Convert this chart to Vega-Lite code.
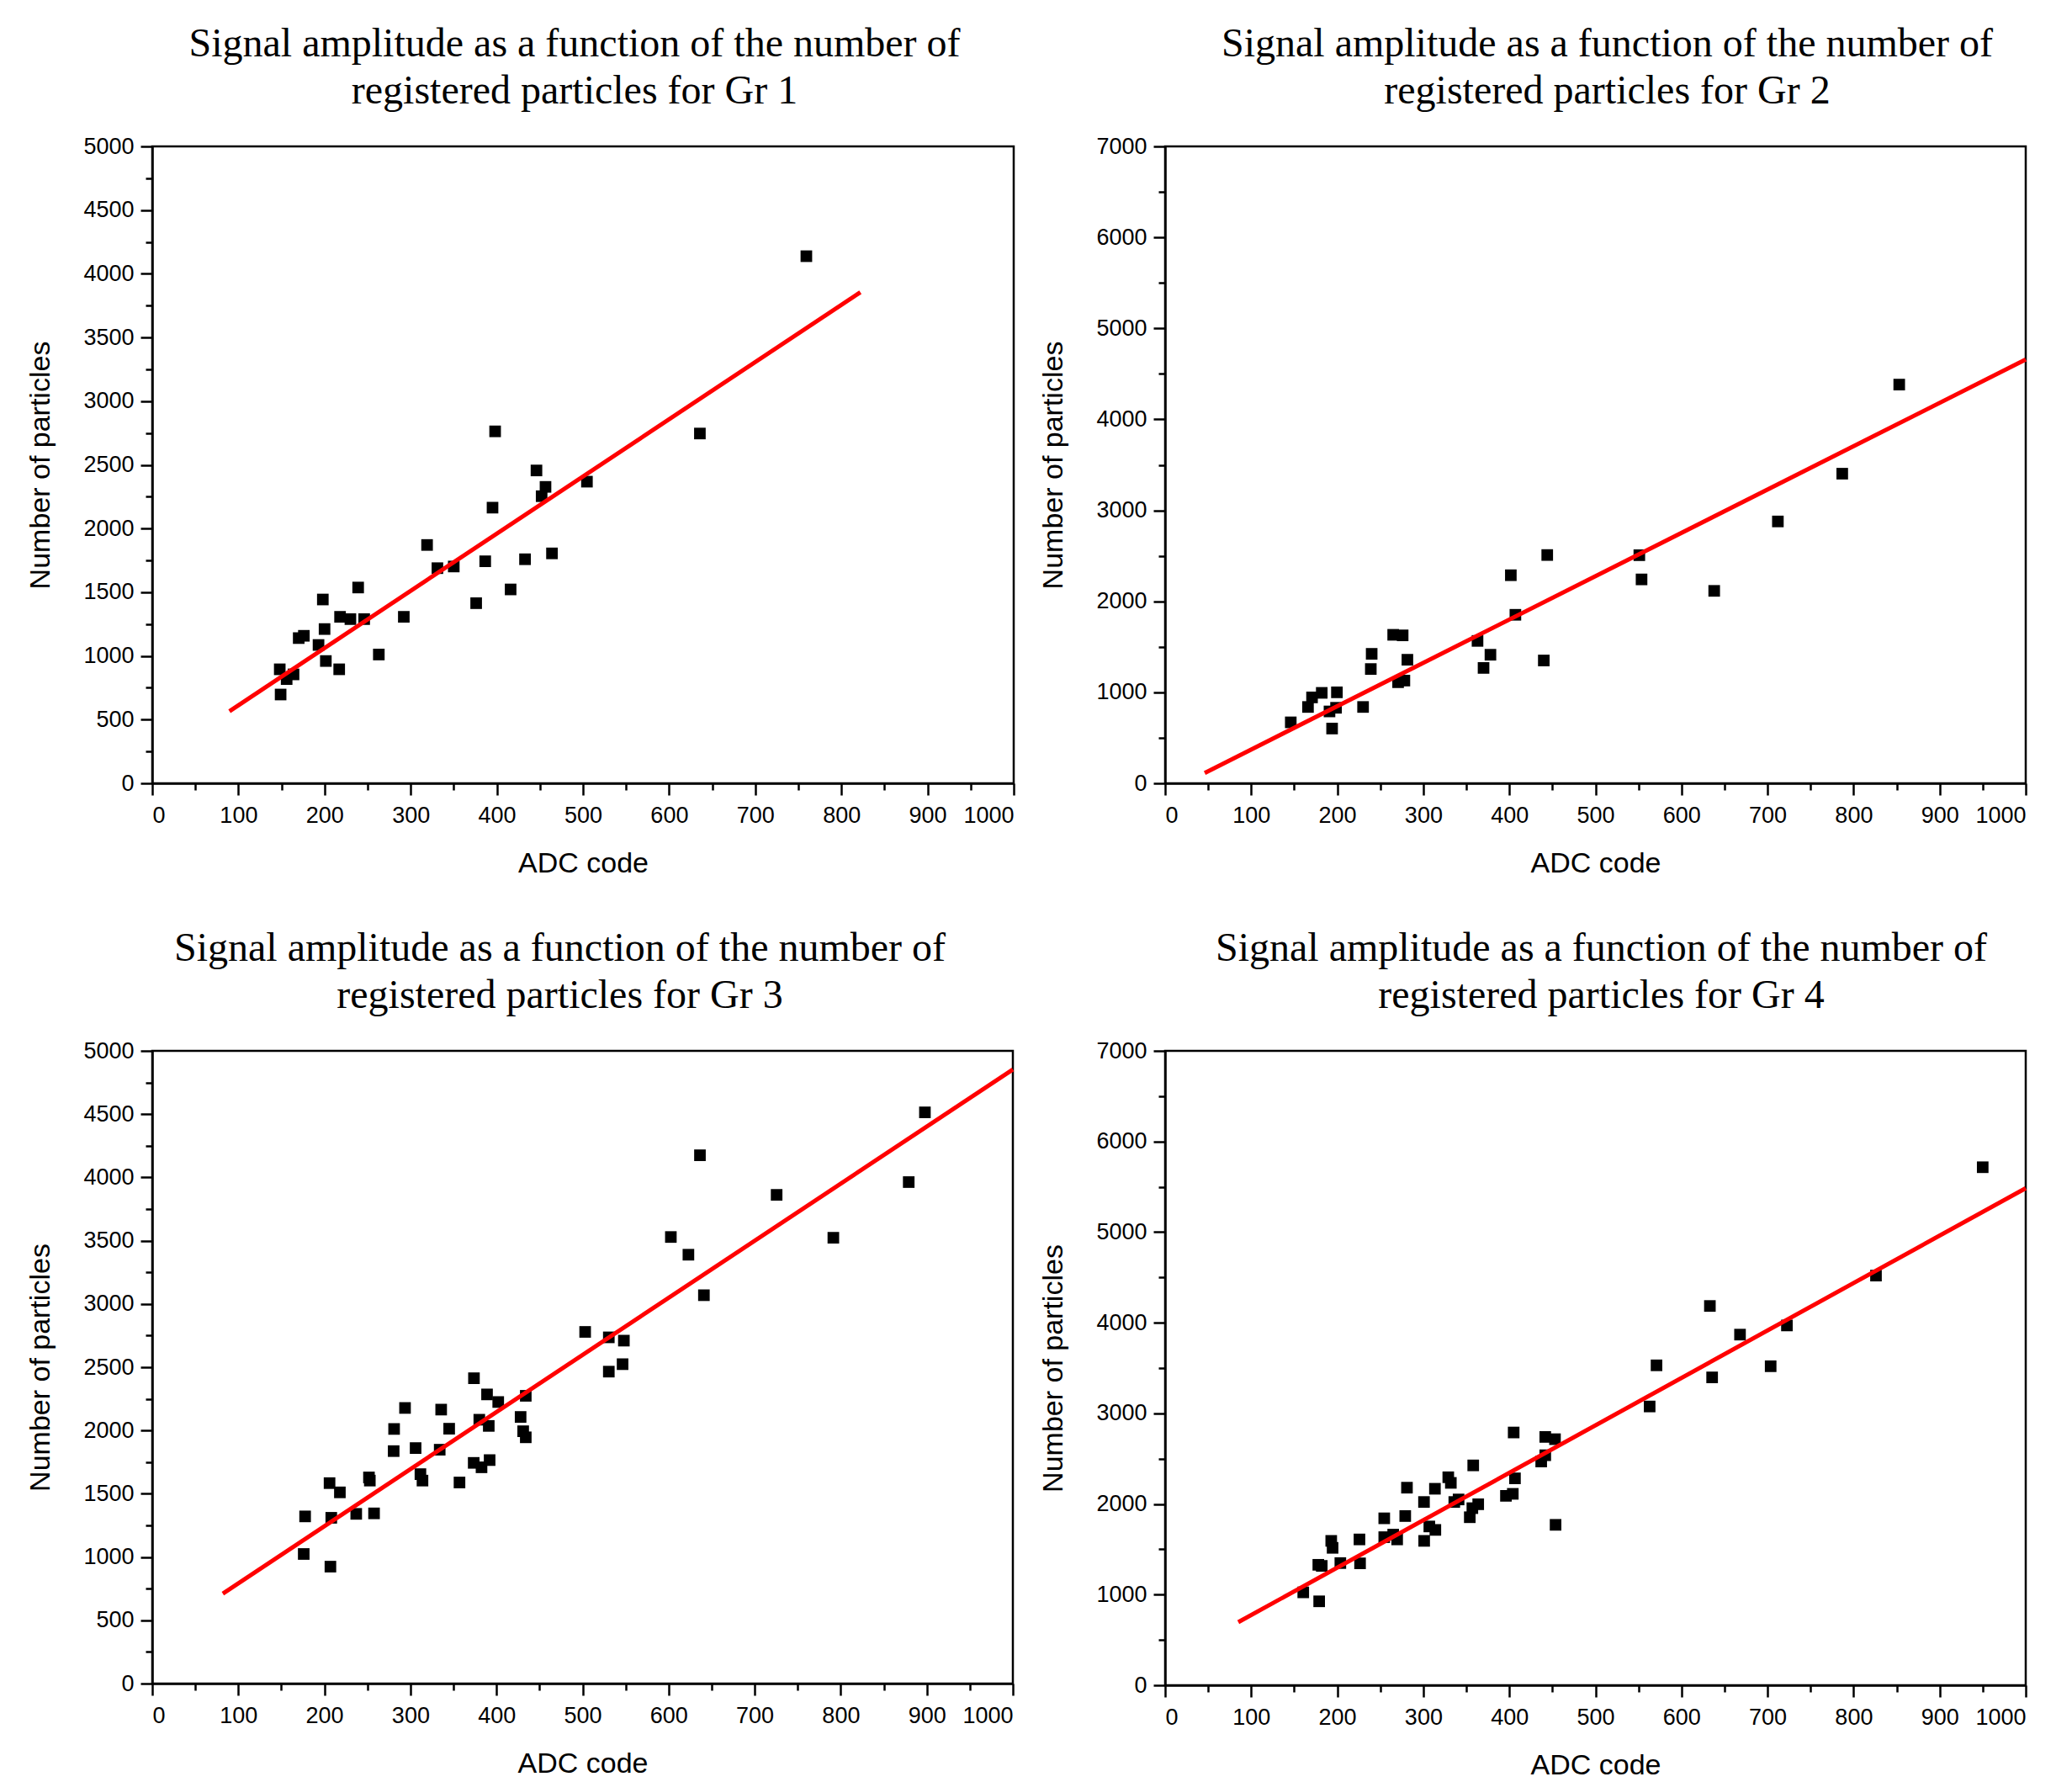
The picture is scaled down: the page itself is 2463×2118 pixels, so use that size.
{
  "$schema": "https://vega.github.io/schema/vega-lite/v6.json",
  "background": "white",
  "padding": {"left": 30, "top": 27, "right": 5, "bottom": 5},
  "datasets": {
    "p1": [{"adc":148,"n":895},{"adc":149,"n":697},{"adc":156,"n":818},{"adc":164,"n":855},{"adc":170,"n":1140},{"adc":176,"n":1158},{"adc":193,"n":1086},{"adc":198,"n":1443},{"adc":200,"n":1211},{"adc":201.5,"n":960},{"adc":217,"n":895},{"adc":218,"n":1307},{"adc":230,"n":1289},{"adc":239,"n":1537},{"adc":246,"n":1289},{"adc":263,"n":1011},{"adc":292,"n":1307},{"adc":319,"n":1871},{"adc":331,"n":1689},{"adc":350,"n":1702},{"adc":376,"n":1414},{"adc":386.5,"n":1743},{"adc":395,"n":2164},{"adc":398,"n":2763},{"adc":416,"n":1522},{"adc":432.7,"n":1759},{"adc":446,"n":2456},{"adc":452,"n":2254},{"adc":456.5,"n":2327},{"adc":464,"n":1805},{"adc":504.6,"n":2368},{"adc":635.7,"n":2746},{"adc":759.3,"n":4138}],
    "f1": [{"adc":89.6,"n":566},{"adc":822,"n":3855}],
    "p2": [{"adc":146,"n":670},{"adc":166,"n":839},{"adc":170.7,"n":944},{"adc":182,"n":994},{"adc":191,"n":790},{"adc":194,"n":602},{"adc":198.6,"n":830},{"adc":199.6,"n":1000},{"adc":230,"n":839},{"adc":239,"n":1256},{"adc":240,"n":1423},{"adc":265,"n":1632},{"adc":270.7,"n":1111},{"adc":276,"n":1626},{"adc":278,"n":1129},{"adc":281.5,"n":1358},{"adc":363,"n":1565},{"adc":370,"n":1268},{"adc":378,"n":1413},{"adc":401.7,"n":2287},{"adc":407,"n":1852},{"adc":440,"n":1350},{"adc":444,"n":2509},{"adc":551,"n":2507},{"adc":553.6,"n":2241},{"adc":638,"n":2115},{"adc":712,"n":2878},{"adc":786.8,"n":3403},{"adc":853,"n":4382}],
    "f2": [{"adc":46,"n":114},{"adc":1000,"n":4658}],
    "p3": [{"adc":177.6,"n":1321},{"adc":176,"n":1024},{"adc":207,"n":924},{"adc":206,"n":1584},{"adc":218,"n":1511},{"adc":208,"n":1310},{"adc":237,"n":1341},{"adc":257.7,"n":1345},{"adc":251.8,"n":1629},{"adc":252.8,"n":1604},{"adc":281,"n":2012},{"adc":280.5,"n":1837},{"adc":293.7,"n":2178},{"adc":306,"n":1861},{"adc":311.6,"n":1655},{"adc":314,"n":1604},{"adc":335.7,"n":2165},{"adc":345,"n":2014},{"adc":334,"n":1848},{"adc":357,"n":1589},{"adc":373.8,"n":2413},{"adc":389,"n":2285},{"adc":402,"n":2225},{"adc":380,"n":2085},{"adc":391,"n":2036},{"adc":373.5,"n":1744},{"adc":382.6,"n":1709},{"adc":392,"n":1766},{"adc":428,"n":2107},{"adc":431,"n":1994},{"adc":434,"n":1946},{"adc":434,"n":2274},{"adc":503,"n":2779},{"adc":530.5,"n":2736},{"adc":530.5,"n":2465},{"adc":548,"n":2710},{"adc":546.5,"n":2524},{"adc":602.6,"n":3529},{"adc":623,"n":3389},{"adc":636.4,"n":4175},{"adc":641,"n":3069},{"adc":725.5,"n":3862},{"adc":791.4,"n":3523},{"adc":879,"n":3963},{"adc":897.8,"n":4514}],
    "f3": [{"adc":82,"n":711},{"adc":1000,"n":4853}],
    "p4": [{"adc":160.5,"n":1025},{"adc":179,"n":926},{"adc":178,"n":1329},{"adc":182,"n":1317},{"adc":193,"n":1593},{"adc":194.6,"n":1516},{"adc":203.6,"n":1348},{"adc":225.8,"n":1609},{"adc":226.5,"n":1345},{"adc":254.6,"n":1842},{"adc":254.6,"n":1634},{"adc":265,"n":1662},{"adc":269.6,"n":1609},{"adc":279,"n":1867},{"adc":281,"n":2180},{"adc":300.8,"n":2022},{"adc":301,"n":1593},{"adc":307,"n":1752},{"adc":314,"n":1714},{"adc":313.5,"n":2168},{"adc":329,"n":2295},{"adc":332,"n":2233},{"adc":336,"n":2022},{"adc":341,"n":2050},{"adc":354,"n":1854},{"adc":357,"n":1954},{"adc":363.8,"n":1997},{"adc":358,"n":2426},{"adc":405,"n":2789},{"adc":406.5,"n":2283},{"adc":396,"n":2090},{"adc":404,"n":2112},{"adc":441.7,"n":2740},{"adc":453,"n":2715},{"adc":441.7,"n":2538},{"adc":437,"n":2469},{"adc":453.7,"n":1770},{"adc":563,"n":3076},{"adc":571,"n":3530},{"adc":633,"n":4185},{"adc":635.6,"n":3397},{"adc":668,"n":3869},{"adc":703.6,"n":3520},{"adc":722.5,"n":3970},{"adc":826,"n":4520},{"adc":950,"n":5716}],
    "f4": [{"adc":85,"n":696},{"adc":1000,"n":5485}]
  },
  "columns": 2,
  "bounds": "flush",
  "spacing": {"column": 180, "row": 318},
  "concat": [
    {
      "width": 1024, "height": 757,
      "title": {"text": ["Signal amplitude as a function of the number of", "registered particles for Gr 1"], "dx": -10},
      "layer": [
        {"data": {"name": "p1"}, "mark": {"type": "point", "shape": "square", "filled": true, "color": "black", "opacity": 1, "size": 190},
         "encoding": {
           "x": {"field": "adc", "type": "quantitative", "scale": {"domain": [0, 1000], "nice": false}, "axis": {"values": [0,100,200,300,400,500,600,700,800,900,1000], "format": "d", "title": "ADC code", "orient": "bottom"}},
           "y": {"field": "n", "type": "quantitative", "scale": {"domain": [0, 5000], "nice": false}, "axis": {"values": [0,500,1000,1500,2000,2500,3000,3500,4000,4500,5000], "format": "d", "title": "Number of particles", "orient": "left"}}}},
        {"data": {"name": "f1"}, "mark": {"type": "line", "color": "#ff0000", "strokeWidth": 5},
         "encoding": {
           "x": {"field": "adc", "type": "quantitative", "axis": {"values": [50,150,250,350,450,550,650,750,850,950], "labels": false, "domain": false, "tickSize": 8, "title": null, "orient": "bottom"}},
           "y": {"field": "n", "type": "quantitative", "axis": {"values": [250,750,1250,1750,2250,2750,3250,3750,4250,4750], "labels": false, "domain": false, "tickSize": 8, "title": null, "orient": "left"}}}}
      ],
      "resolve": {"axis": {"x": "independent", "y": "independent"}}
    },
    {
      "width": 1023, "height": 757,
      "title": {"text": ["Signal amplitude as a function of the number of", "registered particles for Gr 2"], "dx": 14},
      "layer": [
        {"data": {"name": "p2"}, "mark": {"type": "point", "shape": "square", "filled": true, "color": "black", "opacity": 1, "size": 190},
         "encoding": {
           "x": {"field": "adc", "type": "quantitative", "scale": {"domain": [0, 1000], "nice": false}, "axis": {"values": [0,100,200,300,400,500,600,700,800,900,1000], "format": "d", "title": "ADC code", "orient": "bottom"}},
           "y": {"field": "n", "type": "quantitative", "scale": {"domain": [0, 7000], "nice": false}, "axis": {"values": [0,1000,2000,3000,4000,5000,6000,7000], "format": "d", "title": "Number of particles", "orient": "left"}}}},
        {"data": {"name": "f2"}, "mark": {"type": "line", "color": "#ff0000", "strokeWidth": 5},
         "encoding": {
           "x": {"field": "adc", "type": "quantitative", "axis": {"values": [50,150,250,350,450,550,650,750,850,950], "labels": false, "domain": false, "tickSize": 8, "title": null, "orient": "bottom"}},
           "y": {"field": "n", "type": "quantitative", "axis": {"values": [500,1500,2500,3500,4500,5500,6500], "labels": false, "domain": false, "tickSize": 8, "title": null, "orient": "left"}}}}
      ],
      "resolve": {"axis": {"x": "independent", "y": "independent"}}
    },
    {
      "width": 1023, "height": 752,
      "title": {"text": ["Signal amplitude as a function of the number of", "registered particles for Gr 3"], "dx": -27},
      "layer": [
        {"data": {"name": "p3"}, "mark": {"type": "point", "shape": "square", "filled": true, "color": "black", "opacity": 1, "size": 190},
         "encoding": {
           "x": {"field": "adc", "type": "quantitative", "scale": {"domain": [0, 1000], "nice": false}, "axis": {"values": [0,100,200,300,400,500,600,700,800,900,1000], "format": "d", "title": "ADC code", "orient": "bottom"}},
           "y": {"field": "n", "type": "quantitative", "scale": {"domain": [0, 5000], "nice": false}, "axis": {"values": [0,500,1000,1500,2000,2500,3000,3500,4000,4500,5000], "format": "d", "title": "Number of particles", "orient": "left"}}}},
        {"data": {"name": "f3"}, "mark": {"type": "line", "color": "#ff0000", "strokeWidth": 5},
         "encoding": {
           "x": {"field": "adc", "type": "quantitative", "axis": {"values": [50,150,250,350,450,550,650,750,850,950], "labels": false, "domain": false, "tickSize": 8, "title": null, "orient": "bottom"}},
           "y": {"field": "n", "type": "quantitative", "axis": {"values": [250,750,1250,1750,2250,2750,3250,3750,4250,4750], "labels": false, "domain": false, "tickSize": 8, "title": null, "orient": "left"}}}}
      ],
      "resolve": {"axis": {"x": "independent", "y": "independent"}}
    },
    {
      "width": 1023, "height": 754,
      "title": {"text": ["Signal amplitude as a function of the number of", "registered particles for Gr 4"], "dx": 7},
      "layer": [
        {"data": {"name": "p4"}, "mark": {"type": "point", "shape": "square", "filled": true, "color": "black", "opacity": 1, "size": 190},
         "encoding": {
           "x": {"field": "adc", "type": "quantitative", "scale": {"domain": [0, 1000], "nice": false}, "axis": {"values": [0,100,200,300,400,500,600,700,800,900,1000], "format": "d", "title": "ADC code", "orient": "bottom"}},
           "y": {"field": "n", "type": "quantitative", "scale": {"domain": [0, 7000], "nice": false}, "axis": {"values": [0,1000,2000,3000,4000,5000,6000,7000], "format": "d", "title": "Number of particles", "orient": "left"}}}},
        {"data": {"name": "f4"}, "mark": {"type": "line", "color": "#ff0000", "strokeWidth": 5},
         "encoding": {
           "x": {"field": "adc", "type": "quantitative", "axis": {"values": [50,150,250,350,450,550,650,750,850,950], "labels": false, "domain": false, "tickSize": 8, "title": null, "orient": "bottom"}},
           "y": {"field": "n", "type": "quantitative", "axis": {"values": [500,1500,2500,3500,4500,5500,6500], "labels": false, "domain": false, "tickSize": 8, "title": null, "orient": "left"}}}}
      ],
      "resolve": {"axis": {"x": "independent", "y": "independent"}}
    }
  ],
  "config": {
    "view": {"stroke": "black", "strokeWidth": 2.5},
    "axis": {"grid": false, "domainColor": "black", "domainWidth": 2.5, "tickColor": "black", "tickWidth": 2.5, "tickSize": 14,
             "labelFont": "Liberation Sans", "labelFontSize": 27, "labelColor": "black",
             "titleFont": "Liberation Sans", "titleFontSize": 34, "titleFontWeight": "normal", "titleColor": "black"},
    "axisX": {"labelPadding": 11, "titlePadding": 27},
    "axisY": {"labelPadding": 8, "titlePadding": 33},
    "title": {"font": "Liberation Serif", "fontSize": 48, "fontWeight": "normal", "color": "black", "lineHeight": 56, "frame": "group", "anchor": "middle", "baseline": "bottom", "offset": 27}
  }
}
